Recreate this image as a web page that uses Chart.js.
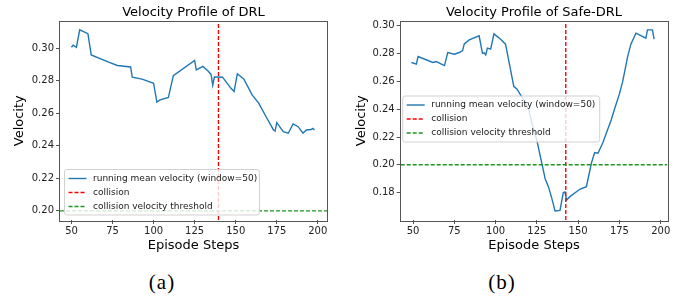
<!DOCTYPE html>
<html><head><meta charset="utf-8">
<script src="https://cdn.jsdelivr.net/npm/chart.js@4.4.0/dist/chart.umd.min.js"></script>
<style>
html,body{margin:0;padding:0;background:#fff;width:686px;height:297px;overflow:hidden}
.wrap{position:absolute;top:0;width:343px;height:262px}
.cap{position:absolute;font-family:"Liberation Serif",serif;font-size:21px;line-height:21px;top:272px;width:60px;text-align:center;color:#000;letter-spacing:1px}
</style></head><body>
<div class="wrap" style="left:0"><canvas id="c1" width="343" height="262"></canvas></div>
<div class="wrap" style="left:343px"><canvas id="c2" width="343" height="262"></canvas></div>
<div class="cap" style="left:132px">(a)</div>
<div class="cap" style="left:472px">(b)</div>
<script>
// ---- data ----
const drlSteps = [50,51,53,55,60,62,73,78,86,87,93,100,102,104,109,112,125,126,130,133,135,136,137,139,142,147,149,151,155,160,164,169,173,174,175,179,182,185,188,191,193,196,197,198];
const drlVelocity = [0.3005,0.3018,0.3005,0.3112,0.3088,0.2958,0.2912,0.2893,0.2884,0.2821,0.2809,0.2784,0.2668,0.2682,0.2696,0.2831,0.2924,0.2866,0.2887,0.2860,0.2838,0.2772,0.2822,0.2822,0.2821,0.2754,0.2733,0.2842,0.2809,0.2712,0.2662,0.2569,0.2497,0.2490,0.2542,0.2487,0.2477,0.2534,0.2517,0.2477,0.2497,0.2500,0.2507,0.2497];
const safeSteps = [49,52,53,62,64,69,71,75,78,80,81,84,90,92,93,94,95,97,99,103,106,111,113,117,120,122,125,128,130,132,134,136,139,141,142,143,145,151,155,158,160,162,165,170,172,175,177,180,182,185,191,192,195,196];
const safeVelocity = [0.2736,0.2724,0.2779,0.2736,0.2743,0.2714,0.2808,0.2796,0.2808,0.2822,0.2870,0.2899,0.2928,0.2803,0.2806,0.2791,0.2839,0.2832,0.2942,0.2904,0.2868,0.2565,0.2544,0.2465,0.2400,0.2300,0.2175,0.2010,0.1900,0.1843,0.1760,0.1668,0.1672,0.1800,0.1805,0.1747,0.1771,0.1824,0.1843,0.2011,0.2088,0.2083,0.2160,0.2323,0.2400,0.2510,0.2600,0.2780,0.2870,0.2947,0.2911,0.2971,0.2971,0.2904];
const drlCollisionStep = 139.5;
const safeCollisionStep = 142.5;
const thresholdVelocity = 0.20;
const xTicks = [50,75,100,125,150,175,200];
const drlYTicks = [0.20,0.22,0.24,0.26,0.28,0.30];
const safeYTicks = [0.18,0.20,0.22,0.24,0.26,0.28,0.30];
const seriesLabels = ['running mean velocity (window=50)','collision','collision velocity threshold'];
const titles = ['Velocity Profile of DRL','Velocity Profile of Safe-DRL'];
const xLabel = 'Episode Steps';
const yLabel = 'Velocity';

const FONT = '"DejaVu Sans", sans-serif';
const SPINE = '#555';

const framePlugin = {
  id: 'frame',
  afterDatasetsDraw(chart) {
    const a = chart.chartArea, ctx = chart.ctx;
    ctx.save();
    ctx.strokeStyle = SPINE; ctx.lineWidth = 1;
    ctx.strokeRect(Math.round(a.left) - 0.5, Math.round(a.top) - 0.5, Math.round(a.right - a.left) + 1, Math.round(a.bottom - a.top) + 1);
    ctx.restore();
  }
};

const legendPlugin = {
  id: 'mplLegend',
  afterDraw(chart, args, opts) {
    const ctx = chart.ctx;
    const a = chart.chartArea;
    const x = a.left + opts.dx, y = opts.y, w = opts.w, h = opts.h, r = 2.5;
    ctx.save();
    ctx.beginPath();
    ctx.moveTo(x + r, y); ctx.lineTo(x + w - r, y); ctx.quadraticCurveTo(x + w, y, x + w, y + r);
    ctx.lineTo(x + w, y + h - r); ctx.quadraticCurveTo(x + w, y + h, x + w - r, y + h);
    ctx.lineTo(x + r, y + h); ctx.quadraticCurveTo(x, y + h, x, y + h - r);
    ctx.lineTo(x, y + r); ctx.quadraticCurveTo(x, y, x + r, y);
    ctx.closePath();
    ctx.fillStyle = 'rgba(255,255,255,0.8)'; ctx.fill();
    ctx.strokeStyle = 'rgba(204,204,204,0.9)'; ctx.lineWidth = 1; ctx.stroke();
    chart.data.datasets.forEach((ds, i) => {
      const ry = y + 9 + i * 14;
      ctx.strokeStyle = ds.borderColor; ctx.lineWidth = ds.borderWidth;
      ctx.setLineDash(ds.borderDash || []);
      ctx.beginPath(); ctx.moveTo(x + 4, ry); ctx.lineTo(x + 22, ry); ctx.stroke();
      ctx.setLineDash([]);
      ctx.fillStyle = '#1a1a1a'; ctx.font = '9px ' + FONT; ctx.textBaseline = 'middle'; ctx.textAlign = 'left';
      ctx.fillText(ds.label, x + 28.5, ry);
    });
    ctx.restore();
  }
};

function makeChart(id, cfg) {
  const pts = cfg.steps.map((s, i) => ({x: s, y: cfg.values[i]}));
  new Chart(document.getElementById(id), {
    type: 'line',
    data: {
      datasets: [
        {label: seriesLabels[0], data: pts, borderColor: '#1f77b4', borderWidth: 1.4, pointRadius: 0, tension: 0, order: 3},
        {label: seriesLabels[1], data: [{x: cfg.collision, y: cfg.yMin}, {x: cfg.collision, y: cfg.yMax}], borderColor: '#ff0000', borderWidth: 1.4, borderDash: [4, 2], pointRadius: 0, order: 2},
        {label: seriesLabels[2], data: [{x: cfg.xMin, y: thresholdVelocity}, {x: cfg.xMax, y: thresholdVelocity}], borderColor: '#1e951e', borderWidth: 1.4, borderDash: [4, 2], pointRadius: 0, order: 1}
      ]
    },
    options: {
      responsive: false, animation: false, devicePixelRatio: 1,
      layout: {padding: {left: 0, right: cfg.padRight, top: 0, bottom: 0}},
      plugins: {
        legend: {display: false}, tooltip: {enabled: false},
        title: {display: true, text: cfg.title, fullSize: false, color: '#000', font: {family: FONT, size: 13, weight: 'normal'}, padding: {top: 5, bottom: 0.9}},
        mplLegend: cfg.legend
      },
      scales: {
        x: {
          type: 'linear', min: cfg.xMin, max: cfg.xMax,
          afterBuildTicks: s => { s.ticks = xTicks.map(v => ({value: v})); },
          afterFit: s => { s.height = 42; },
          grid: {display: true, drawOnChartArea: false, drawTicks: true, tickLength: 4, tickColor: SPINE, lineWidth: 1},
          border: {display: false},
          ticks: {padding: 1, color: '#222', font: {family: FONT, size: 10}, maxRotation: 0, autoSkip: false, callback: v => String(v)},
          title: {display: true, text: xLabel, color: '#000', font: {family: FONT, size: 13}, padding: {top: 0, bottom: 8.5}}
        },
        y: {
          type: 'linear', min: cfg.yMin, max: cfg.yMax,
          afterBuildTicks: s => { s.ticks = cfg.yTicks.map(v => ({value: v})); },
          afterFit: s => { s.width = cfg.yWidth; },
          grid: {display: true, drawOnChartArea: false, drawTicks: true, tickLength: 4, tickColor: SPINE, lineWidth: 1},
          border: {display: false},
          ticks: {padding: 2, color: '#222', font: {family: FONT, size: 10}, autoSkip: false, callback: v => Number(v).toFixed(2)},
          title: {display: true, text: yLabel, color: '#000', font: {family: FONT, size: 13}, padding: {top: cfg.yTitlePad, bottom: 0}}
        }
      }
    },
    plugins: [framePlugin, legendPlugin]
  });
}

makeChart('c1', {
  steps: drlSteps, values: drlVelocity, collision: drlCollisionStep, title: titles[0],
  xMin: 43, xMax: 205.6, yMin: 0.1944, yMax: 0.3163, yTicks: drlYTicks,
  yWidth: 60, padRight: 16, yTitlePad: 12.2,
  legend: {dx: 4.5, y: 169.5, w: 195, h: 45.5}
});
makeChart('c2', {
  steps: safeSteps, values: safeVelocity, collision: safeCollisionStep, title: titles[1],
  xMin: 42.5, xMax: 204, yMin: 0.1603, yMax: 0.3031, yTicks: safeYTicks,
  yWidth: 57.7, padRight: 18.7, yTitlePad: 10.4,
  legend: {dx: 2, y: 96, w: 197, h: 46}
});
</script>
</body></html>
